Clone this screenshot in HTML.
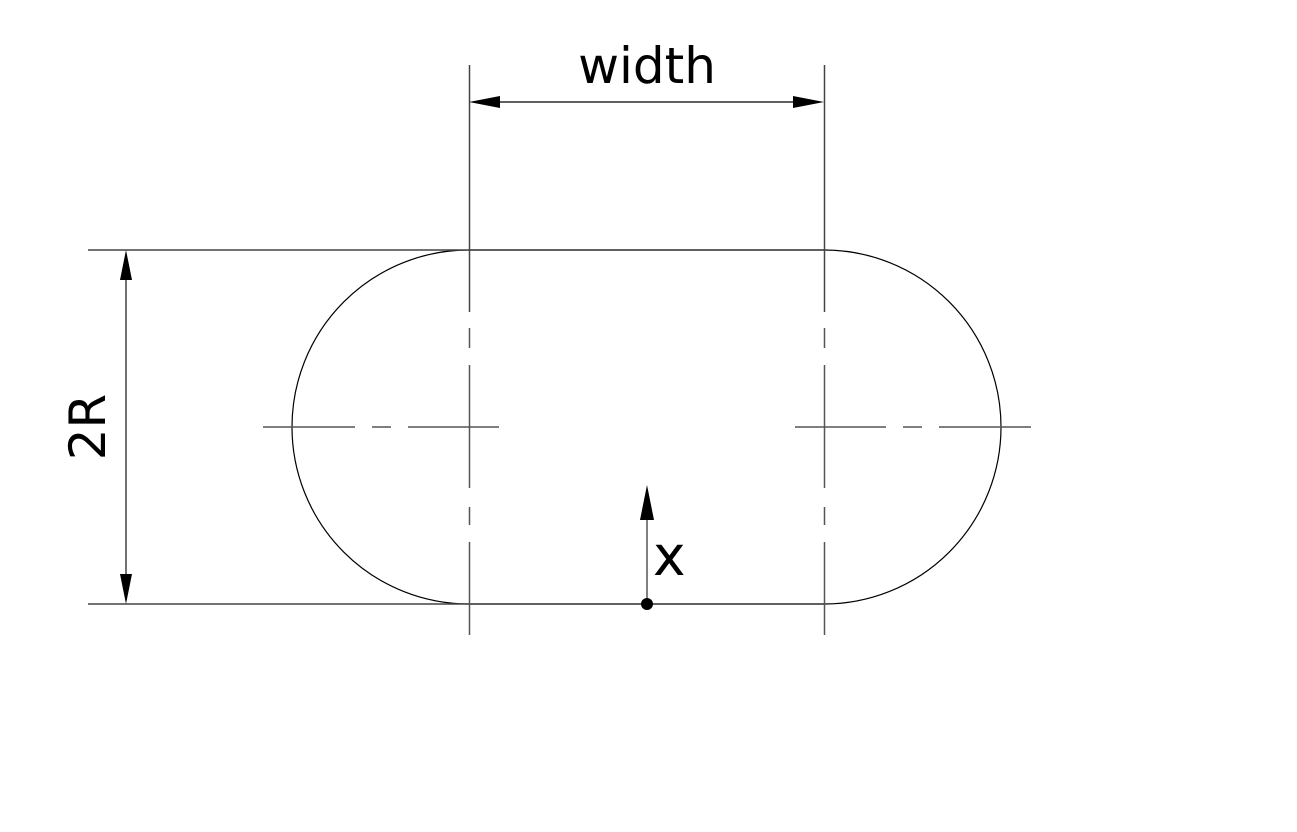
<!DOCTYPE html>
<html><head><meta charset="utf-8"><style>
html,body{margin:0;padding:0;background:#fff;width:1297px;height:832px;overflow:hidden}
svg{display:block}
text{font-family:"DejaVu Sans","Liberation Sans",sans-serif;fill:#000}
</style></head><body>
<svg width="1297" height="832" viewBox="0 0 1297 832">
<g stroke="#000" fill="none" stroke-width="1.2">
  <path d="M469,250 L824,250 A177,177 0 0 1 824,604 L469,604 A177,177 0 0 1 469,250 Z"/>
</g>
<g stroke="#444" stroke-width="1.5">
  <line x1="88" y1="250" x2="469" y2="250"/>
  <line x1="88" y1="604" x2="469" y2="604"/>
  <line x1="469.5" y1="65" x2="469.5" y2="312"/>
  <line x1="824.5" y1="65" x2="824.5" y2="312"/>
</g>
<g stroke="#555" stroke-width="1.5">
  <path d="M469.5,328V348M469.5,365V488M469.5,507V525M469.5,542V635"/>
  <path d="M824.5,328V348M824.5,365V488M824.5,507V525M824.5,542V635"/>
  <path d="M263,427H355M372,427H391M408,427H499"/>
  <path d="M795,427H886M903,427H922M939,427H1031"/>
</g>
<g stroke="#000" stroke-width="1.2">
  <line x1="499" y1="102" x2="794" y2="102"/>
  <polygon points="469,102 500,96 500,108" fill="#000" stroke="none"/>
  <polygon points="824,102 793,96 793,108" fill="#000" stroke="none"/>
</g>
<text x="647" y="83" font-size="50" text-anchor="middle">width</text>
<g>
  <line x1="126" y1="278" x2="126" y2="576" stroke="#444" stroke-width="1.5"/>
  <polygon points="126,250 120,280 132,280" fill="#000"/>
  <polygon points="126,604 120,574 132,574" fill="#000"/>
</g>
<text x="0" y="0" font-size="50" text-anchor="middle" transform="translate(105,427) rotate(-90)">2R</text>
<g>
  <line x1="647" y1="515" x2="647" y2="604" stroke="#555" stroke-width="1.5"/>
  <polygon points="647,485 640,520 654,520" fill="#000"/>
  <circle cx="647" cy="604" r="6" fill="#000"/>
</g>
<text x="653" y="575" font-size="55">x</text>
</svg>
</body></html>
